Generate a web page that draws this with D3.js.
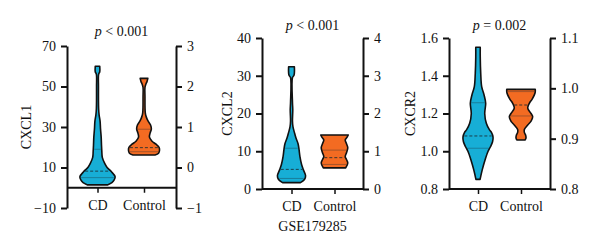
<!DOCTYPE html>
<html>
<head>
<meta charset="utf-8">
<script src="https://cdn.jsdelivr.net/npm/d3@7"></script>
<style>
  body { margin: 0; background: #fff; }
  svg text { font-family: "Liberation Serif", "DejaVu Serif", serif; fill: #111; }
</style>
</head>
<body>
<svg id="chart"></svg>
<script>
let width = 600,
    height = 251;

let groups = ["CD", "Control"];
let cohort = "GSE179285";

// violin outlines: value along the axis, relative density
let cxcl1CdValues = [1.4, 2.5, 4, 5.5, 8, 10, 12, 15, 18, 21, 25, 29, 33, 36, 39, 50, 56, 57.3, 60];
let cxcl1CdDensity = [0.62, 0.9, 1.05, 1.1, 0.86, 0.6, 0.45, 0.3, 0.27, 0.25, 0.23, 0.19, 0.16, 0.1, 0.07, 0.06, 0.07, 0.14, 0.14];
let cxcl1CtrlValues = [16.2, 17, 18.5, 20, 21.5, 23, 25, 27, 29, 31, 33, 35, 37, 45, 49.5, 51, 52.5, 54];
let cxcl1CtrlDensity = [0.69, 0.91, 0.97, 0.94, 0.75, 0.5, 0.34, 0.38, 0.46, 0.41, 0.25, 0.14, 0.08, 0.06, 0.06, 0.11, 0.19, 0.24];

let cxcl2CdValues = [1.7, 2.5, 3.5, 5, 6.5, 8.5, 10.5, 12, 13.5, 15, 16.5, 18, 21, 23, 29.5, 30.2, 32.4];
let cxcl2CdDensity = [0.56, 0.81, 0.88, 0.75, 0.63, 0.53, 0.47, 0.41, 0.28, 0.18, 0.09, 0.06, 0.08, 0.06, 0.06, 0.16, 0.18];
let cxcl2CtrlValues = [5.6, 6.9, 7.8, 8.6, 9.6, 10.9, 12, 13, 13.8, 14.3];
let cxcl2CtrlDensity = [0.7, 0.83, 0.75, 0.67, 0.75, 0.83, 0.75, 0.67, 0.8, 0.86];

let cxcr2CdValues = [0.851, 0.9, 0.954, 1.0, 1.024, 1.05, 1.075, 1.1, 1.113, 1.148, 1.2, 1.254, 1.298, 1.342, 1.413, 1.5, 1.551];
let cxcr2CdDensity = [0.13, 0.26, 0.44, 0.63, 0.78, 0.91, 0.94, 0.84, 0.72, 0.52, 0.42, 0.48, 0.38, 0.23, 0.17, 0.14, 0.14];
let cxcr2CtrlValues = [1.06, 1.07, 1.085, 1.1, 1.115, 1.139, 1.16, 1.183, 1.2, 1.228, 1.254, 1.275, 1.3, 1.315, 1.328];
let cxcr2CtrlDensity = [0.25, 0.31, 0.29, 0.21, 0.21, 0.42, 0.63, 0.73, 0.63, 0.42, 0.52, 0.69, 0.84, 0.89, 0.89];

// quartiles: [Q1, median, Q3]
let cxcl1CdQuart = [5, 8.2, 19];
let cxcl1CtrlQuart = [17.8, 19.8, 28.9];
let cxcl2CdQuart = [2.8, 5.2, 10.8];
let cxcl2CtrlQuart = [6.5, 8.3, 10.3];
let cxcr2CdQuart = [1.016, 1.081, 1.257];
let cxcr2CtrlQuart = [1.187, 1.245, 1.316];

let geneNames = ["CXCL1", "CXCL2", "CXCR2"];
let pLabels = ["< 0.001", "< 0.001", "= 0.002"];
let leftTicks = [[-10, 10, 30, 50, 70], [0, 10, 20, 30, 40], [0.8, 1.0, 1.2, 1.4, 1.6]];
let rightTicks = [[-1, 0, 1, 2, 3], [0, 1, 2, 3, 4], [0.8, 0.9, 1.0, 1.1]];

let colors = { CD: "#17aed6", Control: "#f36b22" };

let panels = [
    { left: 67, right: 176, top: 46, bottom: 208, inset: [30.5, 32], yDomain: [-10, 70], rDomain: [-1, 3], base: 0,
      fmt: d3.format("d"), rfmt: d3.format("d"), titleY: 36, labelX: 31,
      violins: [[cxcl1CdValues, cxcl1CdDensity, cxcl1CdQuart], [cxcl1CtrlValues, cxcl1CtrlDensity, cxcl1CtrlQuart]] },
    { left: 262, right: 363, top: 38, bottom: 189, inset: [29.5, 28.5], yDomain: [0, 40], rDomain: [0, 4], base: 0,
      fmt: d3.format("d"), rfmt: d3.format("d"), titleY: 30, labelX: 231.5,
      violins: [[cxcl2CdValues, cxcl2CdDensity, cxcl2CdQuart], [cxcl2CtrlValues, cxcl2CtrlDensity, cxcl2CtrlQuart]] },
    { left: 449, right: 550, top: 38, bottom: 189, inset: [29, 29], yDomain: [0.8, 1.6], rDomain: [0.8, 1.1], base: 0.8,
      fmt: d3.format(".1f"), rfmt: d3.format(".1f"), titleY: 30, labelX: 415,
      violins: [[cxcr2CdValues, cxcr2CdDensity, cxcr2CdQuart], [cxcr2CtrlValues, cxcr2CtrlDensity, cxcr2CtrlQuart]] }
];

let svg = d3.select("svg#chart")
    .attr("width", width)
    .attr("height", height);

let widthScale = d3.scaleLinear().domain([0, 1]).range([0, 16]);
let fontSize = 14;

panels.forEach((p, i) => {
    let g = svg.append("g");
    let y = d3.scaleLinear().domain(p.yDomain).range([p.bottom, p.top]);
    let yr = d3.scaleLinear().domain(p.rDomain).range([p.bottom, p.top]);
    let x = d3.scalePoint().domain(groups).range([p.left + p.inset[0], p.right - p.inset[1]]);

    // violins
    p.violins.forEach((v, k) => {
        let cx = x(groups[k]);
        let pts = v[0].map((val, j) => ({ v: val, d: v[1][j] }));
        let area = d3.area()
            .curve(d3.curveCatmullRom.alpha(0.5))
            .y(d => y(d.v))
            .x0(d => cx - widthScale(d.d))
            .x1(d => cx + widthScale(d.d));
        g.append("path")
            .datum(pts)
            .attr("d", area)
            .attr("fill", colors[groups[k]])
            .attr("stroke", "#111")
            .attr("stroke-width", 1.6)
            .attr("stroke-linejoin", "round");

        let dens = d3.scaleLinear().domain(v[0]).range(v[1]);
        v[2].forEach((q, qi) => {
            let hw = widthScale(dens(q)) - 1;
            g.append("line")
                .attr("x1", cx - hw).attr("x2", cx + hw)
                .attr("y1", y(q)).attr("y2", y(q))
                .attr("stroke", "#1b2b33")
                .attr("stroke-opacity", qi === 1 ? 0.85 : 0.45)
                .attr("stroke-width", qi === 1 ? 1 : 0.8)
                .attr("stroke-dasharray", qi === 1 ? "3,2" : null);
        });
    });

    // left and right axes
    let la = g.append("g")
        .attr("transform", `translate(${p.left}, 0)`)
        .call(d3.axisLeft(y).tickValues(leftTicks[i]).tickFormat(p.fmt).tickSize(6).tickSizeOuter(0).tickPadding(5));
    let ra = g.append("g")
        .attr("transform", `translate(${p.right}, 0)`)
        .call(d3.axisRight(yr).tickValues(rightTicks[i]).tickFormat(p.rfmt).tickSize(6).tickSizeOuter(0).tickPadding(5));
    [la, ra].forEach(a => {
        a.selectAll("path, line").attr("stroke", "#111").attr("stroke-width", 2);
        a.selectAll("text").attr("font-size", fontSize).attr("fill", "#111");
    });

    // category axis
    let ba = g.append("g")
        .attr("transform", `translate(0, ${y(p.base)})`)
        .call(d3.axisBottom(x).tickSize(5).tickPadding(7));
    ba.select(".domain").remove();
    ba.selectAll("line").attr("stroke", "#111").attr("stroke-width", 1.5);
    ba.selectAll("text").attr("font-size", fontSize).attr("fill", "#111");
    g.append("line")
        .attr("x1", p.left).attr("x2", p.right)
        .attr("y1", y(p.base)).attr("y2", y(p.base))
        .attr("stroke", "#111").attr("stroke-width", 2);

    // title
    let t = g.append("text")
        .attr("x", (p.left + p.right) / 2)
        .attr("y", p.titleY)
        .attr("text-anchor", "middle")
        .attr("font-size", fontSize);
    t.append("tspan").attr("font-style", "italic").text("p");
    t.append("tspan").text(" " + pLabels[i]);

    // y label
    g.append("text")
        .attr("transform", `translate(${p.labelX}, ${(p.top + p.bottom) / 2}) rotate(-90)`)
        .attr("text-anchor", "middle")
        .attr("font-size", fontSize)
        .text(geneNames[i]);
});

svg.append("text")
    .attr("x", (panels[1].left + panels[1].right) / 2)
    .attr("y", 231)
    .attr("text-anchor", "middle")
    .attr("font-size", fontSize)
    .text(cohort);
</script>
</body>
</html>
